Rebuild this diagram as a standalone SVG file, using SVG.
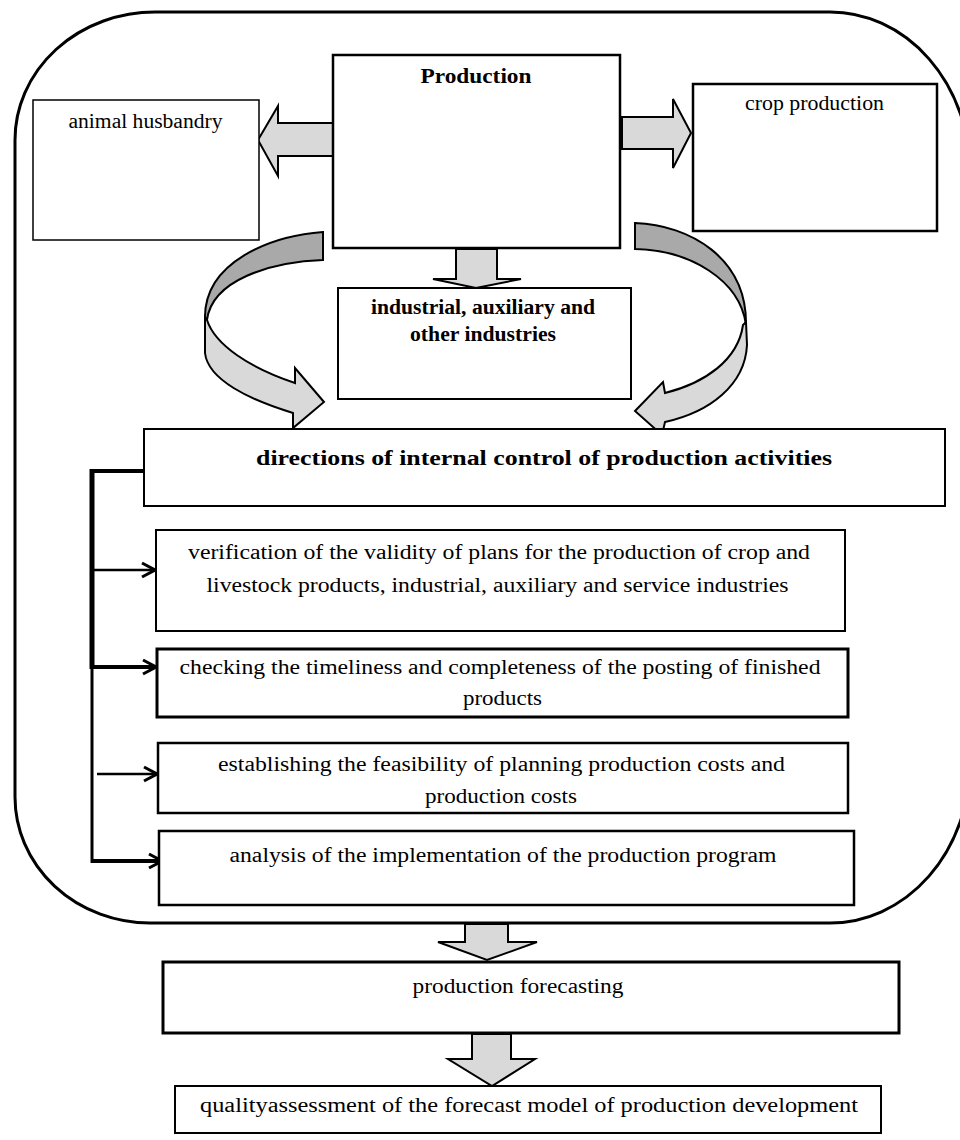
<svg xmlns="http://www.w3.org/2000/svg" width="960" height="1140" viewBox="0 0 960 1140">
<style>
  .box{fill:#fff;stroke:#000}
  .t{font-family:"Liberation Serif","Times New Roman",serif;font-size:20px;fill:#000;text-anchor:middle}
  .b{font-weight:bold}
  .blk{fill:#d9d9d9;stroke:#000;stroke-width:2;stroke-linejoin:miter}
  .dark{fill:#a9a9a9;stroke:#000;stroke-width:2}
  .light{fill:#d9d9d9;stroke:#000;stroke-width:2}
  .con{fill:none;stroke:#000}
</style>
<defs>
  <marker id="chev" viewBox="-16 -10 18 20" refX="0" refY="0" markerWidth="18" markerHeight="20" markerUnits="userSpaceOnUse" orient="auto">
    <path d="M-13,-7 L0,0 L-13,7" fill="none" stroke="#000" stroke-width="3"/>
  </marker>
</defs>
<rect width="960" height="1140" fill="#fff"/>

<g id="outer-frame">
  <path d="M155,12 L830,12 A140,160 0 0 1 970,172 L970,763 A140,160 0 0 1 830,923 L150,923 A135,126 0 0 1 15,797 L15,140 A140,128 0 0 1 155,12 Z" fill="none" stroke="#000" stroke-width="3"/>
</g>

<g id="connectors">
  <polygon class="blk" points="333,123 278,123 278,106 258,140 278,176 278,156 333,156"/>
  <polygon class="blk" points="622,117 673,117 673,99 691,133 673,168 673,149 622,149"/>
  <polygon class="blk" points="456,249 497,249 497,279 521,279 476,288 433,279 456,279"/>
  <path class="dark" d="M323,232 C270,236 205,262 205,317 L207,320 C212,280 270,262 323,260 Z"/>
  <path class="light" d="M207,320 C215,345 250,368 295,383 L295,368 L324,402 L293,428 L293,413 C250,400 208,380 205,353 L205,317 Z"/>
  <path class="dark" d="M635,223 C690,225 747,258 746,325 C740,280 690,250 635,249 Z"/>
  <path class="light" d="M746,322 L747,345 C745,385 710,412 665,422 L662,435 L635,411 L663,382 L665,393 C705,383 738,360 743,325 Z"/>
  <line class="con" x1="92" y1="469" x2="92" y2="669" stroke-width="5"/>
  <line class="con" x1="92" y1="667" x2="92" y2="863" stroke-width="3"/>
  <line class="con" x1="90" y1="471" x2="144" y2="471" stroke-width="4"/>
  <line class="con" x1="92" y1="570" x2="155" y2="570" stroke-width="2.5" marker-end="url(#chev)"/>
  <line class="con" x1="92" y1="667" x2="156" y2="667" stroke-width="4" marker-end="url(#chev)"/>
  <line class="con" x1="97" y1="774" x2="157" y2="774" stroke-width="2.5" marker-end="url(#chev)"/>
  <line class="con" x1="91" y1="861" x2="162" y2="861" stroke-width="4" marker-end="url(#chev)"/>
  <polygon class="blk" points="465,924 508,924 508,942 537,942 487,960 438,942 465,942"/>
  <polygon class="blk" points="472,1034 511,1034 511,1059 535,1059 492,1086 448,1059 472,1059"/>
</g>

<g id="production">
  <rect class="box" x="333" y="55" width="287" height="193" stroke-width="2.5"/>
  <text class="t b" x="476" y="83" textLength="111" lengthAdjust="spacingAndGlyphs">Production</text>
</g>
<g id="animal-husbandry">
  <rect class="box" x="33" y="100" width="226" height="140" stroke-width="1.5"/>
  <text class="t" x="145.5" y="128" textLength="154" lengthAdjust="spacingAndGlyphs">animal husbandry</text>
</g>
<g id="crop-production">
  <rect class="box" x="693" y="84" width="244" height="147" stroke-width="2.5"/>
  <text class="t" x="814.5" y="110" textLength="139" lengthAdjust="spacingAndGlyphs">crop production</text>
</g>
<g id="industrial">
  <rect class="box" x="338" y="288" width="293" height="111" stroke-width="2"/>
  <text class="t b" x="483" y="314" textLength="224" lengthAdjust="spacingAndGlyphs">industrial, auxiliary and</text>
  <text class="t b" x="483" y="341" textLength="146" lengthAdjust="spacingAndGlyphs">other industries</text>
</g>
<g id="directions">
  <rect class="box" x="144" y="429" width="801" height="77" stroke-width="2"/>
  <text class="t b" x="544" y="465" textLength="576" lengthAdjust="spacingAndGlyphs">directions of internal control of production activities</text>
</g>
<g id="verification">
  <rect class="box" x="156" y="530" width="689" height="101" stroke-width="2"/>
  <text class="t" x="499" y="559" textLength="622" lengthAdjust="spacingAndGlyphs">verification of the validity of plans for the production of crop and</text>
  <text class="t" x="497.5" y="592" textLength="582" lengthAdjust="spacingAndGlyphs">livestock products, industrial, auxiliary and service industries</text>
</g>
<g id="checking">
  <rect class="box" x="157" y="649" width="691" height="68" stroke-width="3"/>
  <text class="t" x="500" y="674" textLength="641" lengthAdjust="spacingAndGlyphs">checking the timeliness and completeness of the posting of finished</text>
  <text class="t" x="502.5" y="705" textLength="79" lengthAdjust="spacingAndGlyphs">products</text>
</g>
<g id="establishing">
  <rect class="box" x="158" y="743" width="690" height="70" stroke-width="2.5"/>
  <text class="t" x="501.5" y="771" textLength="567" lengthAdjust="spacingAndGlyphs">establishing the feasibility of planning production costs and</text>
  <text class="t" x="501" y="803" textLength="152" lengthAdjust="spacingAndGlyphs">production costs</text>
</g>
<g id="analysis">
  <rect class="box" x="159" y="831" width="695" height="74" stroke-width="2.5"/>
  <text class="t" x="503" y="862" textLength="547" lengthAdjust="spacingAndGlyphs">analysis of the implementation of the production program</text>
</g>
<g id="forecasting">
  <rect class="box" x="163" y="962" width="736" height="71" stroke-width="3"/>
  <text class="t" x="518" y="993" textLength="211" lengthAdjust="spacingAndGlyphs">production forecasting</text>
</g>
<g id="quality">
  <rect class="box" x="175" y="1086" width="706" height="47" stroke-width="2"/>
  <text class="t" x="529" y="1112" textLength="658" lengthAdjust="spacingAndGlyphs">qualityassessment of the forecast model of production development</text>
</g>
</svg>
